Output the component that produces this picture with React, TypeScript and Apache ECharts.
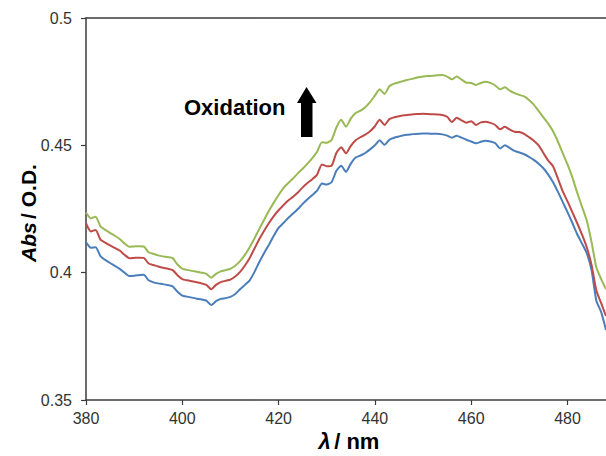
import React, { useEffect, useRef } from "react";
import * as echarts from "echarts";

const wavelengths: number[] = [];
for (let w = 380; w <= 488; w++) wavelengths.push(w);

const blueAbs = [
  0.4120, 0.4098, 0.4100, 0.4065, 0.4050, 0.4038, 0.4027, 0.4015, 0.4000, 0.3987,
  0.3988, 0.3990, 0.3992, 0.3970, 0.3962, 0.3958, 0.3955, 0.3951, 0.3946, 0.3925,
  0.3910, 0.3906, 0.3902, 0.3898, 0.3895, 0.3890, 0.3873, 0.3888, 0.3897, 0.3900,
  0.3905, 0.3916, 0.3935, 0.3952, 0.3970, 0.4003, 0.4042, 0.4077, 0.4110, 0.4145,
  0.4176, 0.4195, 0.4215, 0.4232, 0.4250, 0.4270, 0.4288, 0.4305, 0.4322, 0.4350,
  0.4346, 0.4355, 0.4400, 0.4420, 0.4396, 0.4428, 0.4452, 0.4460, 0.4470, 0.4484,
  0.4500, 0.4520, 0.4502, 0.4522, 0.4530, 0.4535, 0.4540, 0.4542, 0.4544, 0.4545,
  0.4546, 0.4546, 0.4545, 0.4545, 0.4543, 0.4538, 0.4530, 0.4538, 0.4530, 0.4522,
  0.4515, 0.4508, 0.4514, 0.4518, 0.4515, 0.4508, 0.4488, 0.4500, 0.4490, 0.4478,
  0.4472, 0.4465, 0.4455, 0.4443, 0.4428, 0.4410, 0.4385, 0.4355, 0.4318, 0.4278,
  0.4238, 0.4196, 0.4152, 0.4115, 0.4077, 0.4010, 0.3890, 0.3845, 0.3775,
];

const redAbs = [
  0.4194, 0.4162, 0.4168, 0.4130, 0.4118, 0.4107, 0.4097, 0.4087, 0.4070, 0.4057,
  0.4058, 0.4059, 0.4058, 0.4036, 0.4030, 0.4024, 0.4019, 0.4015, 0.4010, 0.3990,
  0.3975, 0.3970, 0.3966, 0.3962, 0.3958, 0.3952, 0.3935, 0.3952, 0.3963, 0.3968,
  0.3973, 0.3985, 0.4003, 0.4028, 0.4058, 0.4095, 0.4132, 0.4165, 0.4195, 0.4222,
  0.4245, 0.4265, 0.4283, 0.4298, 0.4315, 0.4335, 0.4352, 0.4367, 0.4385, 0.4425,
  0.4418, 0.4420, 0.4470, 0.4492, 0.4469, 0.4498, 0.4520, 0.4532, 0.4542, 0.4555,
  0.4575, 0.4600, 0.4580, 0.4603, 0.4610, 0.4614, 0.4618, 0.4620, 0.4622, 0.4623,
  0.4624, 0.4623, 0.4622, 0.4621, 0.4619, 0.4612, 0.4592, 0.4608, 0.4598, 0.4589,
  0.4595, 0.4580, 0.4590, 0.4593, 0.4588, 0.4580, 0.4563, 0.4573, 0.4562, 0.4553,
  0.4552, 0.4545, 0.4532, 0.4518, 0.4500, 0.4470, 0.4440, 0.4418, 0.4370, 0.4320,
  0.4280, 0.4238, 0.4195, 0.4150, 0.4100, 0.4030, 0.3930, 0.3880, 0.3830,
];

const greenAbs = [
  0.4236, 0.4213, 0.4220, 0.4182, 0.4168, 0.4156, 0.4145, 0.4132, 0.4115, 0.4102,
  0.4103, 0.4104, 0.4103, 0.4080, 0.4074, 0.4068, 0.4064, 0.4061, 0.4057, 0.4032,
  0.4016, 0.4011, 0.4007, 0.4004, 0.4000, 0.3995, 0.3980, 0.3995, 0.4005, 0.4010,
  0.4015, 0.4027, 0.4045, 0.4070, 0.4100, 0.4135, 0.4172, 0.4208, 0.4243, 0.4275,
  0.4305, 0.4332, 0.4352, 0.4370, 0.4390, 0.4408, 0.4428, 0.4450, 0.4475, 0.4512,
  0.4510, 0.4521, 0.4570, 0.4600, 0.4573, 0.4605, 0.4627, 0.4636, 0.4650, 0.4670,
  0.4695, 0.4720, 0.4702, 0.4732, 0.4742, 0.4748, 0.4753, 0.4758, 0.4762, 0.4767,
  0.4770, 0.4772, 0.4773, 0.4775, 0.4776, 0.4770, 0.4759, 0.4770, 0.4758, 0.4746,
  0.4745, 0.4737, 0.4745, 0.4750, 0.4745, 0.4735, 0.4720, 0.4728, 0.4715, 0.4705,
  0.4698, 0.4692, 0.4678, 0.4660, 0.4635, 0.4610, 0.4585, 0.4555, 0.4515, 0.4470,
  0.4425, 0.4375, 0.4315, 0.4260, 0.4205, 0.4120, 0.4020, 0.3975, 0.3935,
];

const xTicks = [380, 400, 420, 440, 460, 480];

const FONT = "'Liberation Sans', Arial, sans-serif";

export default function App() {
  const ref = useRef<HTMLDivElement>(null);
  useEffect(() => {
    if (!ref.current) return;
    const chart = echarts.init(ref.current, undefined, { renderer: "svg" });
    const pair = (vals: number[]) => wavelengths.map((w, i) => [w, vals[i]]);
    const axisColor = "#3c3c3c";
    const mkSeries = (name: string, vals: number[], color: string) => ({
      name,
      type: "line",
      data: pair(vals),
      showSymbol: false,
      symbol: "none",
      smooth: 0.2,
      clip: true,
      lineStyle: { color, width: 2 },
      xAxisIndex: 0,
      yAxisIndex: 0,
    });
    chart.setOption({
      animation: false,
      backgroundColor: "#ffffff",
      grid: { left: 86, top: 18, right: 0, bottom: 56, containLabel: false },
      xAxis: [
        {
          type: "value",
          min: 380,
          max: 488,
          interval: 20,
          position: "bottom",
          axisLine: { show: true, onZero: false, lineStyle: { color: axisColor, width: 1.5 } },
          axisTick: { show: true, length: 5, customValues: xTicks, lineStyle: { color: axisColor, width: 1.2 } },
          axisLabel: {
            customValues: xTicks,
            color: "#333",
            fontSize: 16,
            fontFamily: FONT,
            margin: 10,
          },
          splitLine: { show: false },
        },
        {
          type: "value",
          min: 380,
          max: 488,
          position: "top",
          axisLine: { show: true, onZero: false, lineStyle: { color: axisColor, width: 1.5 } },
          axisTick: { show: false },
          axisLabel: { show: false },
          splitLine: { show: false },
        },
      ],
      yAxis: {
        type: "value",
        min: 0.35,
        max: 0.5,
        interval: 0.05,
        axisLine: { show: true, onZero: false, lineStyle: { color: axisColor, width: 1.5 } },
        axisTick: { show: true, length: 5, lineStyle: { color: axisColor, width: 1.2 } },
        axisLabel: {
          color: "#333",
          fontSize: 16,
          fontFamily: FONT,
          margin: 14,
          formatter: (v: number) => String(parseFloat(v.toFixed(2))),
        },
        splitLine: { show: false },
      },
      series: [
        mkSeries("blue", blueAbs, "#4a7ebb"),
        mkSeries("red", redAbs, "#be4b48"),
        mkSeries("green", greenAbs, "#98b954"),
      ],
      graphic: [
        {
          type: "text",
          x: 184,
          y: 107,
          style: {
            text: "Oxidation",
            fontSize: 22,
            fontWeight: "bold",
            fontFamily: FONT,
            fill: "#000",
            verticalAlign: "middle",
            align: "left",
          },
        },
        {
          type: "polygon",
          shape: {
            points: [
              [306.5, 87],
              [316.5, 103],
              [312.5, 103],
              [312.5, 137],
              [301, 137],
              [301, 103],
              [297, 103],
            ],
          },
          style: { fill: "#000" },
        },
        {
          type: "text",
          x: 28,
          y: 213,
          rotation: Math.PI / 2,
          style: {
            text: "{i|Abs} {n|/ O.D.}",
            align: "center",
            verticalAlign: "middle",
            rich: {
              i: { fontSize: 21, fontWeight: "bold", fontStyle: "italic", fontFamily: FONT, fill: "#000" },
              n: { fontSize: 21, fontWeight: "bold", fontFamily: FONT, fill: "#000" },
            },
          },
        },
        {
          type: "text",
          x: 349,
          y: 441,
          style: {
            text: "{i|λ} {n|/ nm}",
            align: "center",
            verticalAlign: "middle",
            rich: {
              i: { fontSize: 22, fontWeight: "bold", fontStyle: "italic", fontFamily: FONT, fill: "#000" },
              n: { fontSize: 22, fontWeight: "bold", fontFamily: FONT, fill: "#000" },
            },
          },
        },
      ],
    });
    return () => chart.dispose();
  }, []);
  return (
    <div
      ref={ref}
      style={{ position: "absolute", left: 0, top: 0, width: 606, height: 456, background: "#fff" }}
    />
  );
}
